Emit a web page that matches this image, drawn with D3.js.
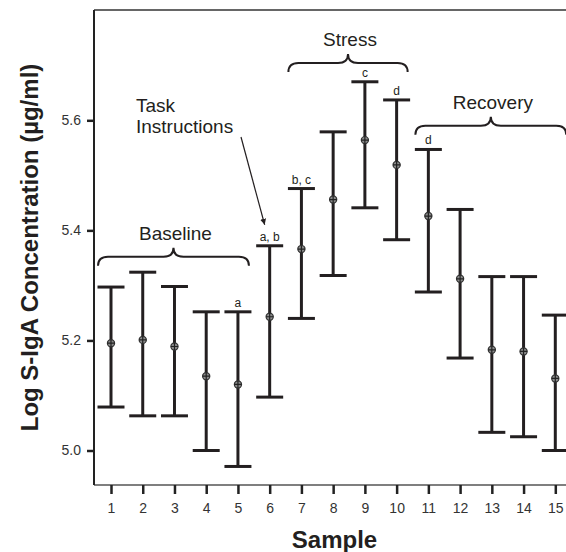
<!DOCTYPE html>
<html>
<head>
<meta charset="utf-8">
<script src="https://cdn.jsdelivr.net/npm/d3@7"></script>
<style>
  body { margin: 0; background: #fff; }
  svg { font-family: "Liberation Sans", Arial, sans-serif; }
</style>
</head>
<body>
<script>
// sample number on the x axis
const samples = [1, 2, 3, 4, 5, 6, 7, 8, 9, 10, 11, 12, 13, 14, 15];
// log S-IgA means and the ends of the error bars
const means = [5.195, 5.201, 5.189, 5.135, 5.120, 5.243, 5.366, 5.456, 5.564, 5.519, 5.426, 5.312, 5.183, 5.180, 5.131];
const upper = [5.297, 5.324, 5.298, 5.252, 5.252, 5.372, 5.476, 5.579, 5.670, 5.637, 5.547, 5.438, 5.316, 5.316, 5.246];
const lower = [5.079, 5.063, 5.063, 5.000, 4.971, 5.097, 5.240, 5.318, 5.441, 5.383, 5.288, 5.168, 5.033, 5.025, 5.000];
// significance letters over the bars
const sigLabels = ["", "", "", "", "a", "a, b", "b, c", "", "c", "d", "d", "", "", "", ""];
const yTicks = [5.0, 5.2, 5.4, 5.6];
// phases (first sample, last sample, level of the brace)
const phaseNames = ["Baseline", "Stress", "Recovery"];
const phaseFrom = [1, 7, 11];
const phaseTo = [5, 10, 15];
const phaseLevel = [5.352, 5.704, 5.590];

const W = 566, H = 552;
const plotLeft = 94, plotTop = 10, plotBottom = 485;

const svg = d3.select("body").append("svg")
  .attr("width", W)
  .attr("height", H);

const x = d3.scaleLinear().domain([1, 15]).range([111, 555.3]);
const y = d3.scaleLinear().domain([5.0, 5.6]).range([450.5, 120.3]);

// frame
svg.append("line").attr("x1", plotLeft).attr("x2", W).attr("y1", plotTop).attr("y2", plotTop)
  .attr("stroke", "#333").attr("stroke-width", 1.5);
svg.append("line").attr("x1", plotLeft).attr("x2", W).attr("y1", plotBottom).attr("y2", plotBottom)
  .attr("stroke", "#555").attr("stroke-width", 1.5);
svg.append("line").attr("x1", plotLeft).attr("x2", plotLeft).attr("y1", plotTop).attr("y2", plotBottom)
  .attr("stroke", "#222").attr("stroke-width", 2);

// axes
const yAxis = svg.append("g")
  .attr("transform", `translate(${plotLeft},0)`)
  .call(d3.axisLeft(y).tickValues(yTicks).tickFormat(d3.format(".1f")).tickSize(7).tickPadding(6));
const xAxis = svg.append("g")
  .attr("transform", `translate(0,${plotBottom})`)
  .call(d3.axisBottom(x).tickValues(samples).tickFormat(d3.format("d")).tickSize(9).tickPadding(9));

[yAxis, xAxis].forEach(a => {
  a.select(".domain").remove();
  a.selectAll(".tick line").attr("stroke", "#222").attr("stroke-width", 2.5);
  a.selectAll(".tick text").attr("fill", "#333").style("font-size", "14px")
    .style("font-family", '"Liberation Sans", Arial, sans-serif');
});

// axis titles
svg.append("text")
  .attr("transform", `translate(38,${(58 + 437) / 2}) rotate(-90)`)
  .attr("text-anchor", "middle")
  .style("font-size", "24px").style("font-weight", "bold")
  .attr("fill", "#231f20")
  .text("Log S-IgA Concentration (µg/ml)");
svg.append("text")
  .attr("x", 334.5).attr("y", 548)
  .attr("text-anchor", "middle")
  .style("font-size", "24px").style("font-weight", "bold")
  .attr("fill", "#231f20")
  .text("Sample");

// error bars
const capHalf = 13.5;
const bars = svg.append("g").selectAll("g")
  .data(samples)
  .join("g");
bars.append("line")
  .attr("x1", d => x(d)).attr("x2", d => x(d))
  .attr("y1", (d, i) => y(upper[i])).attr("y2", (d, i) => y(lower[i]))
  .attr("stroke", "#231f20").attr("stroke-width", 3);
bars.append("line")
  .attr("x1", d => x(d) - capHalf).attr("x2", d => x(d) + capHalf)
  .attr("y1", (d, i) => y(upper[i])).attr("y2", (d, i) => y(upper[i]))
  .attr("stroke", "#231f20").attr("stroke-width", 3);
bars.append("line")
  .attr("x1", d => x(d) - capHalf).attr("x2", d => x(d) + capHalf)
  .attr("y1", (d, i) => y(lower[i])).attr("y2", (d, i) => y(lower[i]))
  .attr("stroke", "#231f20").attr("stroke-width", 3);

// mean markers (circle with a cross)
const marks = bars.append("g")
  .attr("transform", (d, i) => `translate(${x(d)},${y(means[i])})`);
marks.append("circle").attr("r", 3.6)
  .attr("fill", "#8a8a8a").attr("stroke", "#333").attr("stroke-width", 1.2);
marks.append("path").attr("d", "M-3.6,0H3.6M0,-3.6V3.6")
  .attr("stroke", "#222").attr("stroke-width", 1.2);

// significance letters
bars.append("text")
  .attr("x", d => x(d))
  .attr("y", (d, i) => y(upper[i]) - 5)
  .attr("text-anchor", "middle")
  .style("font-size", "12px")
  .attr("fill", "#231f20")
  .text((d, i) => sigLabels[i]);

// phase braces
function brace(x0, x1, yf) {
  const xm = (x0 + x1) / 2, r = 10, h = 9;
  return `M${x0},${yf + h} Q${x0},${yf} ${x0 + r},${yf} L${xm - r},${yf} ` +
    `Q${xm},${yf} ${xm},${yf - h} Q${xm},${yf} ${xm + r},${yf} ` +
    `L${x1 - r},${yf} Q${x1},${yf} ${x1},${yf + h}`;
}
phaseNames.forEach((name, i) => {
  const x0 = x(phaseFrom[i]) - 13, x1 = x(phaseTo[i]) + 11;
  const yf = y(phaseLevel[i]);
  svg.append("path").attr("d", brace(x0, x1, yf))
    .attr("fill", "none").attr("stroke", "#231f20").attr("stroke-width", 2);
  svg.append("text")
    .attr("x", (x0 + x1) / 2 + 2).attr("y", yf - 17)
    .attr("text-anchor", "middle")
    .style("font-size", "19px")
    .attr("fill", "#231f20")
    .text(name);
});

// task instructions note with arrow
svg.append("defs").append("marker")
  .attr("id", "head")
  .attr("viewBox", "0 0 10 10")
  .attr("refX", 10).attr("refY", 5)
  .attr("markerWidth", 5).attr("markerHeight", 5)
  .attr("orient", "auto")
  .append("path").attr("d", "M0,0L10,5L0,10Z").attr("fill", "#231f20");

const note = svg.append("text")
  .attr("x", 136).attr("y", 112)
  .style("font-size", "19px")
  .attr("fill", "#231f20");
note.append("tspan").attr("x", 136).text("Task");
note.append("tspan").attr("x", 136).attr("dy", 20.5).text("Instructions");

svg.append("line")
  .attr("x1", 241).attr("y1", 137)
  .attr("x2", x(6) - 5).attr("y2", y(upper[5]) - 21)
  .attr("stroke", "#231f20").attr("stroke-width", 1.2)
  .attr("marker-end", "url(#head)");
</script>
</body>
</html>
